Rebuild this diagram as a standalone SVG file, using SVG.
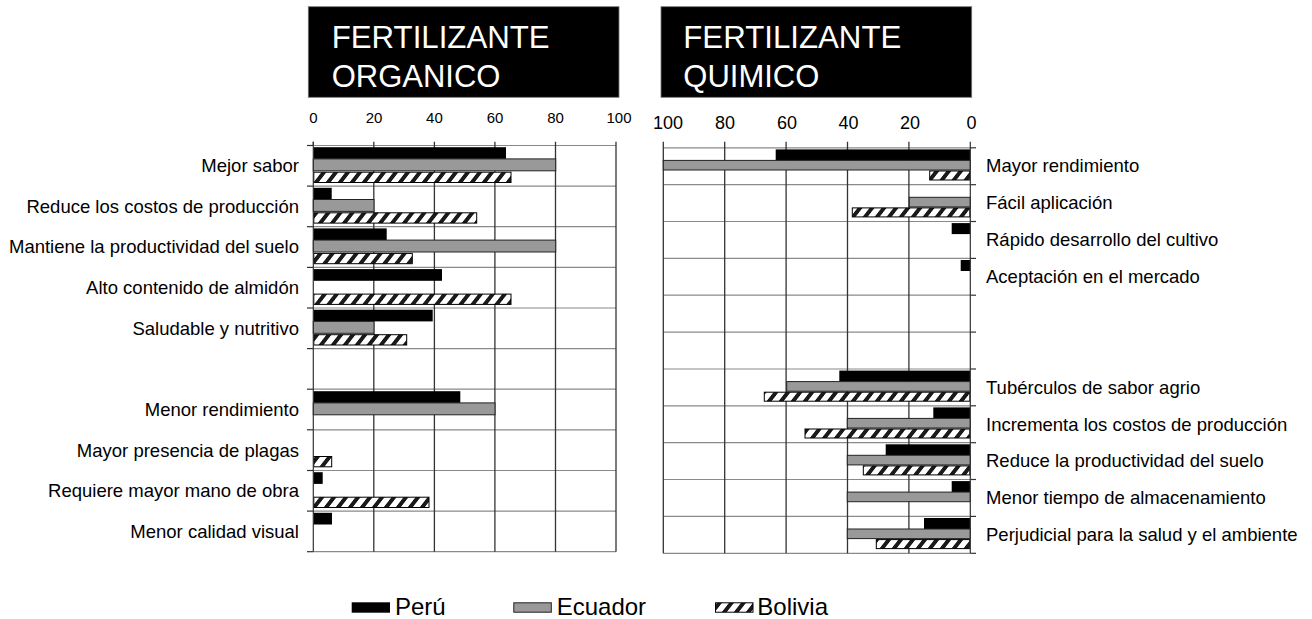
<svg xmlns="http://www.w3.org/2000/svg" width="1312" height="619" viewBox="0 0 1312 619">
<defs>
<pattern id="hatch" patternUnits="userSpaceOnUse" width="12" height="12" patternTransform="skewX(-38)">
<rect x="0" y="0" width="12" height="12" fill="#fff"/>
<rect x="0" y="0" width="5" height="12" fill="#1a1a1a"/>
</pattern>
<style>
.lbl{font-family:"Liberation Sans",Arial,sans-serif;font-size:18.5px;fill:#000}
.ax1{font-family:"Liberation Sans",Arial,sans-serif;font-size:15px;fill:#000;text-anchor:middle}
.ax2{font-family:"Liberation Sans",Arial,sans-serif;font-size:18px;fill:#000;text-anchor:middle}
.hdr{font-family:"Liberation Sans",Arial,sans-serif;font-size:31px;fill:#fff}
.leg{font-family:"Liberation Sans",Arial,sans-serif;font-size:24px;fill:#000}
.vg{stroke:#333;stroke-width:1.3}
.hg{stroke:#8a8a8a;stroke-width:1.2}
.tk{stroke:#333;stroke-width:1.2}
.pe{fill:#000}
.ec{fill:#999;stroke:#222;stroke-width:1}
.bo{fill:url(#hatch);stroke:#000;stroke-width:1}
</style>
</defs>
<rect width="1312" height="619" fill="#fff"/>

<g id="header-organico">
<rect x="308.3" y="6.7" width="310.7" height="90.6" fill="#000" stroke="#777" stroke-width="0.8"/>
<text class="hdr" x="331.7" y="48.3" textLength="218" lengthAdjust="spacingAndGlyphs">FERTILIZANTE</text>
<text class="hdr" x="331.7" y="87.3">ORGANICO</text>
</g>
<g id="header-quimico">
<rect x="661" y="6.7" width="310.7" height="90.6" fill="#000" stroke="#777" stroke-width="0.8"/>
<text class="hdr" x="683.3" y="48.3" textLength="218" lengthAdjust="spacingAndGlyphs">FERTILIZANTE</text>
<text class="hdr" x="683.3" y="87.3">QUIMICO</text>
</g>

<g id="chart-organico">
<g id="left-axis-labels">
<text class="ax1" x="313.5" y="123">0</text>
<text class="ax1" x="374" y="123">20</text>
<text class="ax1" x="434.4" y="123">40</text>
<text class="ax1" x="495" y="123">60</text>
<text class="ax1" x="555.5" y="123">80</text>
<text class="ax1" x="619" y="123">100</text>
</g>
<g id="left-grid">
<line class="hg" x1="313.3" y1="145.5" x2="616" y2="145.5"/>
<line class="hg" x1="313.3" y1="186.1" x2="616" y2="186.1"/>
<line class="hg" x1="313.3" y1="226.7" x2="616" y2="226.7"/>
<line class="hg" x1="313.3" y1="267.4" x2="616" y2="267.4"/>
<line class="hg" x1="313.3" y1="308" x2="616" y2="308"/>
<line class="hg" x1="313.3" y1="348.6" x2="616" y2="348.6"/>
<line class="hg" x1="313.3" y1="389.2" x2="616" y2="389.2"/>
<line class="hg" x1="313.3" y1="429.8" x2="616" y2="429.8"/>
<line class="hg" x1="313.3" y1="470.5" x2="616" y2="470.5"/>
<line class="hg" x1="313.3" y1="511.1" x2="616" y2="511.1"/>
<line class="hg" x1="313.3" y1="551.7" x2="616" y2="551.7"/>
<line class="vg" x1="373.8" y1="141.7" x2="373.8" y2="551.7"/>
<line class="vg" x1="434.4" y1="141.7" x2="434.4" y2="551.7"/>
<line class="vg" x1="494.9" y1="141.7" x2="494.9" y2="551.7"/>
<line class="vg" x1="555.5" y1="141.7" x2="555.5" y2="551.7"/>
<line class="vg" x1="616" y1="141.7" x2="616" y2="551.7" stroke="#777"/>
</g>
<g id="left-bars">
<rect class="pe" x="313.3" y="147.2" width="192.7" height="11.7"/>
<rect class="ec" x="313.3" y="158.9" width="242.4" height="11.9"/>
<rect class="bo" x="313.8" y="172.2" width="197.2" height="10.3"/>

<rect class="pe" x="313.3" y="187.8" width="18.4" height="11.7"/>
<rect class="ec" x="313.3" y="199.5" width="60.7" height="11.9"/>
<rect class="bo" x="313.8" y="212.8" width="162.9" height="10.3"/>

<rect class="pe" x="313.3" y="228.4" width="73.4" height="11.7"/>
<rect class="ec" x="313.3" y="240.1" width="242.4" height="11.9"/>
<rect class="bo" x="313.8" y="253.4" width="98.5" height="10.3"/>

<rect class="pe" x="313.3" y="269.1" width="128.7" height="11.7"/>
<rect class="bo" x="313.8" y="294.1" width="197.2" height="10.3"/>

<rect class="pe" x="313.3" y="309.7" width="119.4" height="11.7"/>
<rect class="ec" x="313.3" y="321.4" width="60.7" height="11.9"/>
<rect class="bo" x="313.8" y="334.7" width="92.9" height="10.3"/>

<rect class="pe" x="313.3" y="391.2" width="147" height="11.7"/>
<rect class="ec" x="313.3" y="402.9" width="181.7" height="11.9"/>

<rect class="bo" x="313.8" y="456.5" width="17.9" height="10.3"/>

<rect class="pe" x="313.3" y="472.2" width="9.4" height="11.7"/>
<rect class="bo" x="313.8" y="497.2" width="115.2" height="10.3"/>

<rect class="pe" x="313.3" y="512.8" width="18.7" height="11.7"/>
</g>
<g id="left-axis">
<line class="tk" x1="313.3" y1="141.7" x2="313.3" y2="551.7"/>
<line class="tk" x1="313.3" y1="141.7" x2="313.3" y2="145.5"/>
<line class="tk" x1="307" y1="145.5" x2="313.3" y2="145.5"/>
<line class="tk" x1="307" y1="186.1" x2="313.3" y2="186.1"/>
<line class="tk" x1="307" y1="226.7" x2="313.3" y2="226.7"/>
<line class="tk" x1="307" y1="267.4" x2="313.3" y2="267.4"/>
<line class="tk" x1="307" y1="308" x2="313.3" y2="308"/>
<line class="tk" x1="307" y1="348.6" x2="313.3" y2="348.6"/>
<line class="tk" x1="307" y1="389.2" x2="313.3" y2="389.2"/>
<line class="tk" x1="307" y1="429.8" x2="313.3" y2="429.8"/>
<line class="tk" x1="307" y1="470.5" x2="313.3" y2="470.5"/>
<line class="tk" x1="307" y1="511.1" x2="313.3" y2="511.1"/>
<line class="tk" x1="307" y1="551.7" x2="313.3" y2="551.7"/>
</g>
<g id="left-labels" text-anchor="end">
<text class="lbl" x="299" y="172.2">Mejor sabor</text>
<text class="lbl" x="299" y="212.8">Reduce los costos de producción</text>
<text class="lbl" x="299" y="253.4">Mantiene la productividad del suelo</text>
<text class="lbl" x="299" y="294">Alto contenido de almidón</text>
<text class="lbl" x="299" y="334.6">Saludable y nutritivo</text>
<text class="lbl" x="299" y="416">Menor rendimiento</text>
<text class="lbl" x="299" y="456.6">Mayor presencia de plagas</text>
<text class="lbl" x="299" y="497.2">Requiere mayor mano de obra</text>
<text class="lbl" x="299" y="537.8">Menor calidad visual</text>
</g>
</g>

<g id="chart-quimico">
<g id="right-axis-labels">
<text class="ax2" x="668" y="129">100</text>
<text class="ax2" x="725" y="129">80</text>
<text class="ax2" x="787" y="129">60</text>
<text class="ax2" x="848.5" y="129">40</text>
<text class="ax2" x="910" y="129">20</text>
<text class="ax2" x="971.5" y="129">0</text>
</g>
<g id="right-grid">
<line class="hg" x1="663.3" y1="147.8" x2="970.3" y2="147.8"/>
<line class="hg" x1="663.3" y1="184.7" x2="970.3" y2="184.7"/>
<line class="hg" x1="663.3" y1="221.5" x2="970.3" y2="221.5"/>
<line class="hg" x1="663.3" y1="258.4" x2="970.3" y2="258.4"/>
<line class="hg" x1="663.3" y1="295.2" x2="970.3" y2="295.2"/>
<line class="hg" x1="663.3" y1="332.1" x2="970.3" y2="332.1"/>
<line class="hg" x1="663.3" y1="369" x2="970.3" y2="369"/>
<line class="hg" x1="663.3" y1="405.8" x2="970.3" y2="405.8"/>
<line class="hg" x1="663.3" y1="442.7" x2="970.3" y2="442.7"/>
<line class="hg" x1="663.3" y1="479.5" x2="970.3" y2="479.5"/>
<line class="hg" x1="663.3" y1="516.4" x2="970.3" y2="516.4"/>
<line class="hg" x1="663.3" y1="553.3" x2="970.3" y2="553.3"/>
<line class="vg" x1="663.3" y1="141.7" x2="663.3" y2="553.3" stroke="#777"/>
<line class="vg" x1="724.7" y1="141.7" x2="724.7" y2="553.3"/>
<line class="vg" x1="786.1" y1="141.7" x2="786.1" y2="553.3"/>
<line class="vg" x1="847.5" y1="141.7" x2="847.5" y2="553.3"/>
<line class="vg" x1="908.9" y1="141.7" x2="908.9" y2="553.3"/>
</g>
<g id="right-bars">
<rect class="pe" x="775.7" y="149.4" width="194.6" height="11"/>
<rect class="ec" x="663.3" y="160.4" width="307" height="9.6"/>
<rect class="bo" x="929.7" y="171" width="40.1" height="9"/>

<rect class="ec" x="909.3" y="197.3" width="61" height="9.6"/>
<rect class="bo" x="852.3" y="207.9" width="117.5" height="9"/>

<rect class="pe" x="951.7" y="223.1" width="18.6" height="11"/>

<rect class="pe" x="960.7" y="260" width="9.6" height="11"/>

<rect class="pe" x="839.3" y="370.6" width="131" height="11"/>
<rect class="ec" x="786.7" y="381.6" width="183.6" height="9.6"/>
<rect class="bo" x="764.3" y="392.2" width="205.5" height="9"/>

<rect class="pe" x="933.3" y="407.4" width="37" height="11"/>
<rect class="ec" x="847.3" y="418.4" width="123" height="9.6"/>
<rect class="bo" x="805" y="429" width="164.8" height="9"/>

<rect class="pe" x="885.7" y="444.3" width="84.6" height="11"/>
<rect class="ec" x="847.3" y="455.3" width="123" height="9.6"/>
<rect class="bo" x="863.3" y="465.9" width="106.5" height="9"/>

<rect class="pe" x="951.7" y="481.1" width="18.6" height="11"/>
<rect class="ec" x="847.3" y="492.1" width="123" height="9.6"/>

<rect class="pe" x="924" y="518" width="46.3" height="11"/>
<rect class="ec" x="847.3" y="529" width="123" height="9.6"/>
<rect class="bo" x="876.3" y="539.6" width="93.5" height="9"/>
</g>
<g id="right-axis">
<line class="tk" x1="970.3" y1="141.7" x2="970.3" y2="553.3" stroke="#000"/>
<line class="tk" x1="970.3" y1="147.8" x2="976" y2="147.8"/>
<line class="tk" x1="970.3" y1="184.7" x2="976" y2="184.7"/>
<line class="tk" x1="970.3" y1="221.5" x2="976" y2="221.5"/>
<line class="tk" x1="970.3" y1="258.4" x2="976" y2="258.4"/>
<line class="tk" x1="970.3" y1="295.2" x2="976" y2="295.2"/>
<line class="tk" x1="970.3" y1="332.1" x2="976" y2="332.1"/>
<line class="tk" x1="970.3" y1="369" x2="976" y2="369"/>
<line class="tk" x1="970.3" y1="405.8" x2="976" y2="405.8"/>
<line class="tk" x1="970.3" y1="442.7" x2="976" y2="442.7"/>
<line class="tk" x1="970.3" y1="479.5" x2="976" y2="479.5"/>
<line class="tk" x1="970.3" y1="516.4" x2="976" y2="516.4"/>
<line class="tk" x1="970.3" y1="553.3" x2="976" y2="553.3"/>
</g>
<g id="right-labels">
<text class="lbl" x="986" y="172">Mayor rendimiento</text>
<text class="lbl" x="986" y="208.9">Fácil aplicación</text>
<text class="lbl" x="986" y="245.7">Rápido desarrollo del cultivo</text>
<text class="lbl" x="986" y="282.6">Aceptación en el mercado</text>
<text class="lbl" x="986" y="393.7">Tubérculos de sabor agrio</text>
<text class="lbl" x="986" y="430.5">Incrementa los costos de producción</text>
<text class="lbl" x="986" y="467.4">Reduce la productividad del suelo</text>
<text class="lbl" x="986" y="504.2">Menor tiempo de almacenamiento</text>
<text class="lbl" x="986" y="541">Perjudicial para la salud y el ambiente</text>
</g>
</g>

<g id="legend">
<rect class="pe" x="351.7" y="602.3" width="38.3" height="10.4"/>
<text class="leg" x="395" y="615">Perú</text>
<rect class="ec" x="513.8" y="602.8" width="37.5" height="9.4"/>
<text class="leg" x="556.7" y="615">Ecuador</text>
<rect class="bo" x="715.5" y="602.8" width="37.5" height="9.4"/>
<text class="leg" x="757.3" y="615">Bolivia</text>
</g>
</svg>
